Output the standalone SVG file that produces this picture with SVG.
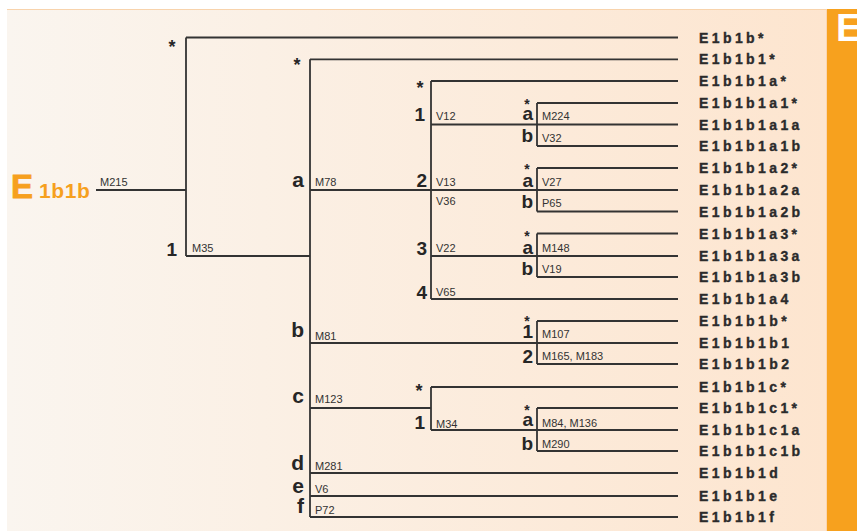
<svg xmlns="http://www.w3.org/2000/svg" width="857" height="531" viewBox="0 0 857 531">
<defs>
<linearGradient id="bg" x1="0" y1="0" x2="1" y2="0">
<stop offset="0" stop-color="#faf5ef"/>
<stop offset="1" stop-color="#fde5cf"/>
</linearGradient>
</defs>
<style>
.ln{fill:none;stroke:#333;stroke-width:1.8}
.leaf{font-family:"Liberation Sans",Arial,sans-serif;font-weight:bold;font-size:14px;letter-spacing:3.4px;fill:#2b2b2b;stroke:#2b2b2b;stroke-width:0.35}
.mk{font-family:"Liberation Sans",Arial,sans-serif;font-size:11px;fill:#333}
.lb{font-family:"Liberation Sans",Arial,sans-serif;font-weight:bold;font-size:19px;fill:#262626;text-anchor:end}
.lb1{font-family:"Liberation Sans",Arial,sans-serif;font-weight:bold;font-size:21px;fill:#262626;text-anchor:end}
.st{font-family:"Liberation Sans",Arial,sans-serif;font-weight:bold;font-size:18px;fill:#262626;text-anchor:middle}
.sst{font-family:"Liberation Sans",Arial,sans-serif;font-weight:bold;font-size:14px;fill:#262626;text-anchor:middle}
</style>
<rect x="0" y="0" width="857" height="531" fill="#ffffff"/>
<rect x="7" y="9" width="819" height="522" fill="url(#bg)"/>
<line x1="7" y1="9.5" x2="826" y2="9.5" stroke="#f8d3ac" stroke-width="1"/>
<rect x="826" y="9" width="31" height="522" fill="#f7a11e"/>
<line x1="826.5" y1="9" x2="826.5" y2="531" stroke="#fbd6b0" stroke-width="1"/>
<text x="836" y="41" font-family="Liberation Sans,Arial,sans-serif" font-weight="bold" font-size="38" fill="#ffffff">E</text>

<g id="root">
<text x="11" y="198" font-family="Liberation Sans,Arial,sans-serif" font-weight="bold" font-size="33" fill="#f6a01e" stroke="#f6a01e" stroke-width="0.8">E</text>
<text x="39" y="198" font-family="Liberation Sans,Arial,sans-serif" font-weight="bold" font-size="21" letter-spacing="0.6" fill="#f6a01e">1b1b</text>
<text class="mk" x="100" y="186">M215</text>
</g>

<g id="connectors">
<path class="ln" d="M96 190H186M186 37.5V256M186 37.5H678M186 256H310"/>
<path class="ln" d="M310 59.3V517M310 59.3H678M310 190H431"/>
<path class="ln" d="M431 81V299M431 81H678M431 124.5H678M537 103V146M537 103H678M537 146H678"/>
<path class="ln" d="M431 190H678M537 168V211.5M537 168H678M537 211.5H678"/>
<path class="ln" d="M431 256H678M537 233.5V277M537 233.5H678M537 277H678M431 299H678"/>
<path class="ln" d="M310 343H678M537 321V364M537 321H678M537 364H678"/>
<path class="ln" d="M310 408H431M431 387V430M431 387H678M431 430H678M537 408V451M537 408H678M537 451H678"/>
<path class="ln" d="M310 473H678M310 496H678M310 517H678"/>
</g>

<g id="E1b1b-branch">
<text class="st" x="172" y="53.4">*</text>
<text class="lb" x="177" y="256">1</text>
<text class="mk" x="192" y="252">M35</text>
</g>

<g id="E1b1b1">
<text class="st" x="297" y="71">*</text>
<text class="lb1" x="304" y="187">a</text>
<text class="mk" x="315" y="186">M78</text>
<text class="lb1" x="304" y="337">b</text>
<text class="mk" x="315" y="340">M81</text>
<text class="lb1" x="304" y="403">c</text>
<text class="mk" x="315" y="403">M123</text>
<text class="lb1" x="304" y="470">d</text>
<text class="mk" x="315" y="470">M281</text>
<text class="lb1" x="304" y="493">e</text>
<text class="mk" x="315" y="493">V6</text>
<text class="lb1" x="304" y="513">f</text>
<text class="mk" x="315" y="514">P72</text>
</g>

<g id="E1b1b1a">
<text class="st" x="420" y="94">*</text>
<text class="lb" x="425" y="121">1</text>
<text class="mk" x="436" y="120">V12</text>
<text class="lb" x="427" y="187">2</text>
<text class="mk" x="436" y="186">V13</text>
<text class="mk" x="436" y="205">V36</text>
<text class="lb" x="427" y="255">3</text>
<text class="mk" x="436" y="252">V22</text>
<text class="lb" x="427" y="299">4</text>
<text class="mk" x="436" y="296">V65</text>
</g>

<g id="E1b1b1a1">
<text class="sst" x="527" y="108.5">*</text>
<text class="lb" x="533" y="120">a</text>
<text class="mk" x="542" y="120">M224</text>
<text class="lb" x="533" y="142">b</text>
<text class="mk" x="542" y="142">V32</text>
</g>

<g id="E1b1b1a2">
<text class="sst" x="527" y="173.5">*</text>
<text class="lb" x="533" y="187">a</text>
<text class="mk" x="542" y="186">V27</text>
<text class="lb" x="533" y="208">b</text>
<text class="mk" x="542" y="207">P65</text>
</g>

<g id="E1b1b1a3">
<text class="sst" x="527" y="240.5">*</text>
<text class="lb" x="533" y="254">a</text>
<text class="mk" x="542" y="252">M148</text>
<text class="lb" x="533" y="275">b</text>
<text class="mk" x="542" y="273">V19</text>
</g>

<g id="E1b1b1b">
<text class="sst" x="527" y="326">*</text>
<text class="lb" x="533" y="338">1</text>
<text class="mk" x="542" y="338">M107</text>
<text class="lb" x="533" y="363">2</text>
<text class="mk" x="542" y="360">M165, M183</text>
</g>

<g id="E1b1b1c">
<text class="st" x="419" y="397">*</text>
<text class="lb" x="425" y="429">1</text>
<text class="mk" x="436" y="428">M34</text>
</g>

<g id="E1b1b1c1">
<text class="sst" x="527" y="414.5">*</text>
<text class="lb" x="533" y="426">a</text>
<text class="mk" x="542" y="427">M84, M136</text>
<text class="lb" x="533" y="450">b</text>
<text class="mk" x="542" y="448">M290</text>
</g>

<g id="leaves">
<text class="leaf" x="699" y="42.5">E1b1b*</text>
<text class="leaf" x="699" y="64.3">E1b1b1*</text>
<text class="leaf" x="699" y="86">E1b1b1a*</text>
<text class="leaf" x="699" y="108">E1b1b1a1*</text>
<text class="leaf" x="699" y="129.5">E1b1b1a1a</text>
<text class="leaf" x="699" y="151">E1b1b1a1b</text>
<text class="leaf" x="699" y="173">E1b1b1a2*</text>
<text class="leaf" x="699" y="195">E1b1b1a2a</text>
<text class="leaf" x="699" y="216.5">E1b1b1a2b</text>
<text class="leaf" x="699" y="238.5">E1b1b1a3*</text>
<text class="leaf" x="699" y="261">E1b1b1a3a</text>
<text class="leaf" x="699" y="282">E1b1b1a3b</text>
<text class="leaf" x="699" y="304">E1b1b1a4</text>
<text class="leaf" x="699" y="326">E1b1b1b*</text>
<text class="leaf" x="699" y="348">E1b1b1b1</text>
<text class="leaf" x="699" y="369">E1b1b1b2</text>
<text class="leaf" x="699" y="392">E1b1b1c*</text>
<text class="leaf" x="699" y="413">E1b1b1c1*</text>
<text class="leaf" x="699" y="435">E1b1b1c1a</text>
<text class="leaf" x="699" y="456">E1b1b1c1b</text>
<text class="leaf" x="699" y="478">E1b1b1d</text>
<text class="leaf" x="699" y="501">E1b1b1e</text>
<text class="leaf" x="699" y="522">E1b1b1f</text>
</g>
</svg>
